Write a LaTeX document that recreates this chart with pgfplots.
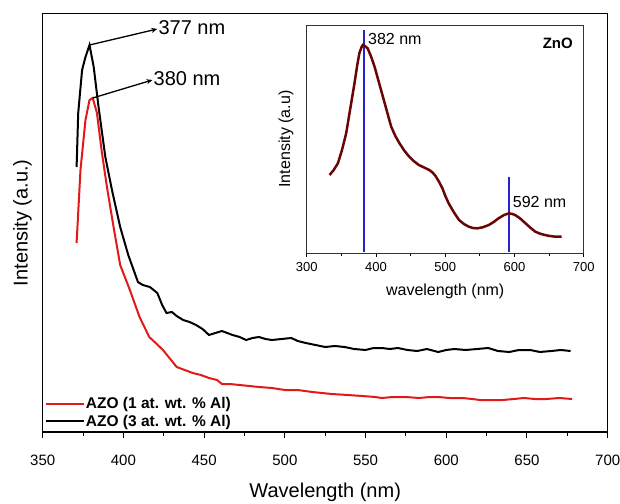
\documentclass[border=0pt]{standalone}
\usepackage{pgfplots}
\pgfplotsset{compat=1.18}
\usepackage{fontspec}
\setmainfont{Liberation Sans}
\usetikzlibrary{arrows.meta}
\definecolor{myred}{RGB}{225,25,25}
\definecolor{maroon}{RGB}{105,5,5}
\definecolor{myblue}{RGB}{35,35,210}
\newcommand{\fs}[1]{\fontsize{#1}{#1}\selectfont}
\begin{document}
\begin{tikzpicture}
\useasboundingbox (-42.7pt,-71pt) rectangle (577.3pt,432pt);
\begin{axis}[
  at={(0pt,0pt)}, anchor=south west,
  scale only axis, width=565pt, height=418.5pt,
  xmin=350, xmax=700, ymin=5, ymax=423.5,
  xtick={350,400,...,700}, minor x tick num=1,
  ytick=\empty,
  tick align=outside, xtick pos=bottom,
  major tick length=6pt, minor tick length=4pt,
  every tick/.style={black, line width=1pt},
  axis line style={line width=1.2pt},
  /pgf/number format/assume math mode=true,
  /pgf/number format/1000 sep={},
  xticklabel style={font=\fs{15}, yshift=-13pt},
  xlabel={Wavelength (nm)}, ylabel={Intensity (a.u.)},
  xlabel style={font=\fs{20}, at={(rel axis cs:0.5,0)}, anchor=north, yshift=-47pt},
  ylabel style={font=\fs{20}, at={(rel axis cs:-0.013,0.5)}, anchor=south},
  legend style={at={(rel axis cs:0,0)}, anchor=south west, xshift=2pt, yshift=3pt,
    draw=none, fill=none, font=\bfseries\fs{15.5}, row sep=3pt, inner sep=0pt,
    nodes={inner sep=1pt}},
  legend cell align=left,
  legend image code/.code={\draw[#1] (0pt,0pt) -- (38pt,0pt);},
]
\addplot[myred, line width=2pt] coordinates {
(371,194) (373.4,267) (376.5,317) (379,337) (381,339) (383.6,324) (386.7,284)
(389.8,250) (393.9,210) (398,172) (404,147) (410,120) (416,100) (420,94) (424.5,87)
(433,70) (438,67) (443,64) (448,62) (453,59) (458,57) (461,53) (466,53) (472,52)
(478,51) (484,50) (492,49) (500,47) (508,47) (517,45) (523,44) (529,43) (539,42)
(548,41) (556,40) (560,39) (567,40) (575,40) (583,39) (590,40) (595,40) (602,39)
(610,39) (616,38) (621,37) (628,37) (635,37) (642,38) (648,39) (655,38) (662,38)
(670,39) (678,38)};
\addlegendentry{AZO (1 at. wt. \% Al)}
\addplot[black, line width=2pt] coordinates {
(371,270) (372,324) (374.4,367) (376.5,380) (379,392) (381.6,370) (384.6,330)
(388.8,280) (392.9,247) (398,210) (403,182) (409,155) (412,152) (416.4,150) (421,144)
(424,132) (426.7,124) (430,125) (433,121) (437,117) (441,115) (445,112) (449,108)
(453,102) (457,104) (461,106) (467.6,102) (472,100) (476,97) (480,99) (484,100)
(488,98) (492,97) (498,98) (504,99) (508,96) (513,94) (519,92) (525,90) (531,91)
(537,90) (543,88) (550,87) (555,89) (560,89) (565,88) (570,89) (576,87) (582,86)
(588,88) (595,85) (600,87) (605,88) (612,87) (619,88) (626,89) (632,86) (639,85)
(645,87) (652,87) (658,85) (665,86) (671,87) (677,86)};
\addlegendentry{AZO (3 at. wt. \% Al)}
\draw[black, line width=1.3pt, -{Stealth[length=6pt,width=5pt]}] (axis cs:379,392) -- (axis cs:421,408);
\node[anchor=west, inner sep=1pt, font=\fs{20}] at (axis cs:421,409) {377 nm};
\draw[black, line width=1.3pt, -{Stealth[length=6pt,width=5pt]}] (axis cs:381,339) -- (axis cs:418,357);
\node[anchor=west, inner sep=1pt, font=\fs{20}] at (axis cs:418,358) {380 nm};
\end{axis}
\begin{axis}[
  at={(264pt,179pt)}, anchor=south west,
  scale only axis, width=277pt, height=228pt,
  xmin=300, xmax=700, ymin=-9, ymax=675,
  xtick={300,400,...,700}, minor x tick num=1,
  ytick=\empty,
  tick align=outside, xtick pos=bottom,
  major tick length=4pt, minor tick length=3pt,
  every tick/.style={black, line width=0.8pt},
  axis line style={line width=0.9pt, black!80},
  /pgf/number format/assume math mode=true,
  xticklabel style={font=\fs{13}, yshift=-2pt},
  xlabel={wavelength (nm)}, ylabel={Intensity (a.u)},
  xlabel style={font=\fs{16}, at={(rel axis cs:0.5,0)}, anchor=north, yshift=-27pt},
  ylabel style={font=\fs{16}, at={(rel axis cs:-0.035,0.5)}, anchor=south},
]
\addplot[myblue, line width=1.6pt, forget plot] coordinates {(382.5,-7) (382.5,660)};
\addplot[myblue, line width=1.6pt, forget plot] coordinates {(592.5,-7) (592.5,220)};
\addplot[maroon, line width=2.5pt] coordinates {
(333,225) (339,240) (345,260) (351,300) (357,350) (363,425) (369,500) (373,555)
(376,590) (379,608) (381,615) (384,612) (388,605) (393,580) (398,550) (404,505)
(410,460) (416,415) (422,370) (428,342) (434,320) (441,298) (448,280) (455,266)
(462,255) (470,247) (477,240) (482,232) (486,222) (491,205) (496,185) (500,163)
(505,140) (512,115) (520,90) (527,78) (534,70) (540,66) (546,65) (554,68) (563,75)
(570,84) (577,95) (585,105) (592,110) (597,108) (601,105) (608,95) (616,80)
(623,67) (630,55) (637,49) (644,45) (651,42) (659,40) (668,40)};
\node[anchor=west, inner sep=1pt, font=\fs{16}] at (axis cs:387,632) {382 nm};
\node[anchor=west, inner sep=1pt, font=\fs{16}] at (axis cs:596,145) {592 nm};
\node[anchor=east, inner sep=1pt, font=\bfseries\fs{15}] at (axis cs:686,620) {ZnO};
\end{axis}
\end{tikzpicture}
\end{document}
